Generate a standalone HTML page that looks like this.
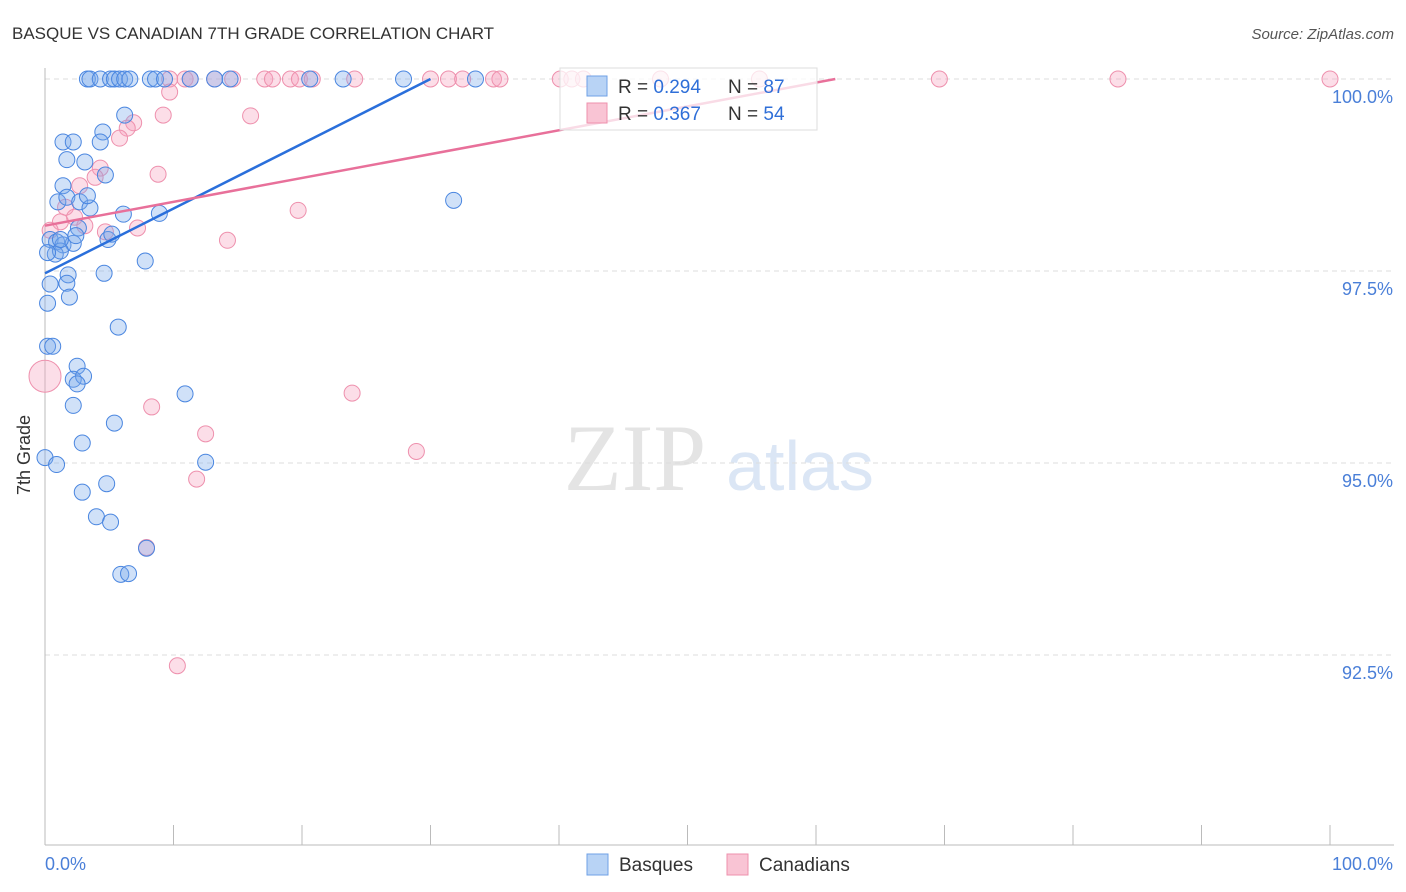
<!DOCTYPE html>
<html><head><meta charset="utf-8"><style>
body{margin:0;background:#fff;font-family:"Liberation Sans",sans-serif}
svg{display:block}
</style></head><body>
<svg id="chart" width="1406" height="892">
<text x="12" y="39" font-size="17" fill="#333">BASQUE VS CANADIAN 7TH GRADE CORRELATION CHART</text>
<text x="1394" y="39" font-size="15" fill="#555" font-style="italic" text-anchor="end">Source: ZipAtlas.com</text>
<text x="30" y="455" font-size="18" fill="#333" text-anchor="middle" transform="rotate(-90 30 455)">7th Grade</text>
<g><text x="635" y="490" font-size="95" fill="#e4e4e4" font-family="Liberation Serif,serif" text-anchor="middle">ZIP</text><text x="800" y="490" font-size="70" fill="#dbe6f5" text-anchor="middle">atlas</text></g>
<g id="grid"></g><g id="axes"></g><g id="pts"></g><g id="lines"></g>
<g>
<rect x="560" y="68" width="257" height="62" fill="#fff" fill-opacity="0.75" stroke="#ddd"/>
<rect x="587" y="76" width="20" height="20" fill="#b8d3f5" stroke="#6fa0e6"/>
<rect x="587" y="103" width="20" height="20" fill="#f9c4d4" stroke="#ee90ad"/>
<text x="618" y="93" font-size="19" fill="#333">R = <tspan fill="#2f6fd8">0.294</tspan></text>
<text x="728" y="93" font-size="19" fill="#333">N = <tspan fill="#2f6fd8">87</tspan></text>
<text x="618" y="120" font-size="19" fill="#333">R = <tspan fill="#2f6fd8">0.367</tspan></text>
<text x="728" y="120" font-size="19" fill="#333">N = <tspan fill="#2f6fd8">54</tspan></text>
</g>
<g>
<rect x="587" y="854" width="21" height="21" fill="#b8d3f5" stroke="#6fa0e6"/>
<text x="619" y="871" font-size="19" fill="#333">Basques</text>
<rect x="727" y="854" width="21" height="21" fill="#f9c4d4" stroke="#ee90ad"/>
<text x="759" y="871" font-size="19" fill="#333">Canadians</text>
</g>
</svg>
<script>
const yTicks=[100,97.5,95,92.5];
const yTickLabels=["100.0%","97.5%","95.0%","92.5%"];
const basqueX=[3.3,3.5,4.3,5.1,5.4,5.8,6.2,6.6,8.2,8.6,9.3,11.3,13.2,14.4,20.6,23.2,27.9,33.5,6.2,1.4,2.2,4.5,4.3,1.7,3.1,4.7,1.4,1.0,1.7,2.7,3.5,3.3,6.1,8.9,31.8,0.4,0.9,1.4,2.2,4.9,5.2,2.6,0.8,1.2,7.8,1.8,4.6,1.7,0.4,1.9,0.2,5.7,0.2,0.6,2.5,2.2,3.0,2.5,10.9,2.2,5.4,2.9,0.0,0.9,12.5,2.9,4.8,4.0,5.1,7.9,5.9,6.5,0.2,1.2,2.4];
const basqueY=[100,100,100,100,100,100,100,100,100,100,100,100,100,100,100,100,100,100,99.53,99.18,99.18,99.31,99.18,98.95,98.92,98.75,98.61,98.40,98.46,98.40,98.32,98.48,98.24,98.25,98.42,97.91,97.88,97.84,97.86,97.91,97.98,98.06,97.72,97.76,97.63,97.45,97.47,97.34,97.33,97.16,97.08,96.77,96.52,96.52,96.26,96.09,96.13,96.03,95.90,95.75,95.52,95.26,95.07,94.98,95.01,94.62,94.73,94.30,94.23,93.89,93.55,93.56,97.74,97.91,97.96];
const canX=[0.0,9.7,10.9,11.3,13.2,14.6,17.1,17.7,19.1,19.8,20.8,24.1,30.0,31.4,32.5,34.9,35.4,40.1,41.0,41.9,47.9,55.6,69.6,83.5,100,9.7,9.2,16.0,6.9,6.4,5.8,4.3,3.9,2.7,8.8,1.6,2.3,1.2,3.1,7.2,4.7,19.7,14.2,0.4,8.3,23.9,12.5,28.9,11.8,7.9,10.3];
const canY=[96.13,100,100,100,100,100,100,100,100,100,100,100,100,100,100,100,100,100,100,100,100,100,100,100,100,99.83,99.53,99.52,99.43,99.36,99.23,98.84,98.72,98.61,98.76,98.33,98.20,98.14,98.09,98.06,98.01,98.29,97.90,98.03,95.73,95.91,95.38,95.15,94.79,93.90,92.36];
const basqueLine=[0,97.47,30,100];
const canLine=[0,98.09,61.5,100];
const X=v=>45+v*12.85, Y=v=>79+(100-v)*76.8;
const NS="http://www.w3.org/2000/svg";
function mk(t,p,a){const e=document.createElementNS(NS,t);for(const k in a)e.setAttribute(k,a[k]);document.getElementById(p).appendChild(e);return e;}
yTicks.forEach((t,i)=>{
 const g=mk('line','grid',{x1:45,x2:1394,y1:Y(t),y2:Y(t),stroke:'#ddd','stroke-dasharray':'5,4'});
 
 
 const l=mk('text','axes',{x:1393,y:Y(t)+24,'font-size':18,fill:'#4a7fd8','text-anchor':'end'});
 l.textContent=yTickLabels[i];
 
 
});
const ax=mk('line','axes',{x1:45,x2:45,y1:68,y2:845,stroke:'#bbb'});


const bx=mk('line','axes',{x1:45,x2:1394,y1:845,y2:845,stroke:'#bbb'});


for(let i=0;i<=10;i++){const t=mk('line','axes',{x1:X(i*10),x2:X(i*10),y1:825,y2:845,stroke:'#bbb'});
 
 }
const x0=mk('text','axes',{x:45,y:870,'font-size':18,fill:'#4a7fd8'});x0.textContent='0.0%';


const x1=mk('text','axes',{x:1393,y:870,'font-size':18,fill:'#4a7fd8','text-anchor':'end'});x1.textContent='100.0%';


canX.forEach((x,i)=>{const c=mk('circle','pts',{cx:X(x),cy:Y(canY[i]),r:i==0?16:8,fill:'rgba(245,160,190,0.35)',stroke:'#ee90ad','stroke-width':1});
 
 });
basqueX.forEach((x,i)=>{const c=mk('circle','pts',{cx:X(x),cy:Y(basqueY[i]),r:8,fill:'rgba(120,170,235,0.35)',stroke:'#4a86e0','stroke-width':1});
 
 });
const bl=mk('line','lines',{x1:X(basqueLine[0]),y1:Y(basqueLine[1]),x2:X(basqueLine[2]),y2:Y(basqueLine[3]),stroke:'#2a6fdb','stroke-width':2.5});


const cl=mk('line','lines',{x1:X(canLine[0]),y1:Y(canLine[1]),x2:X(canLine[2]),y2:Y(canLine[3]),stroke:'#e8709a','stroke-width':2.5});


</script>
</body></html>
